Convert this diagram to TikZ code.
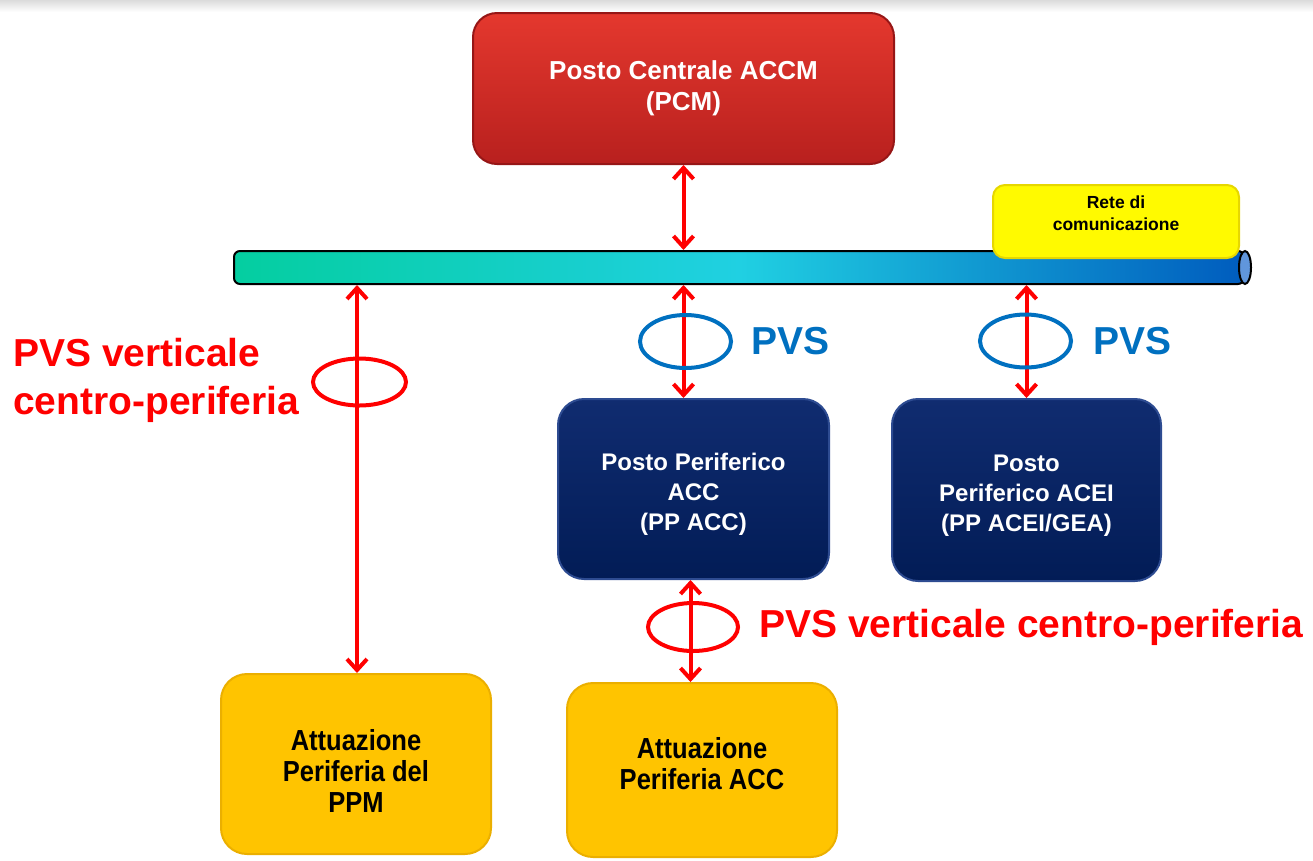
\documentclass[tikz,border=0pt]{standalone}
\usepackage{fontspec}
\setmainfont{Liberation Sans}
\newfontfamily\narrowsans[FakeStretch=0.88]{Liberation Sans}
\usetikzlibrary{arrows.meta,positioning,shapes.geometric}
\definecolor{pcmtop}{RGB}{228,56,46}
\definecolor{pcmbot}{RGB}{184,32,30}
\definecolor{pcmedge}{RGB}{150,22,22}
\definecolor{pptop}{RGB}{16,44,112}
\definecolor{ppbot}{RGB}{2,28,86}
\definecolor{ppedge}{RGB}{45,75,145}
\definecolor{attfill}{RGB}{255,196,0}
\definecolor{attedge}{RGB}{235,175,0}
\definecolor{retefill}{RGB}{255,250,0}
\definecolor{reteedge}{RGB}{230,215,0}
\definecolor{busgreen}{RGB}{4,206,160}
\definecolor{buscyan}{RGB}{32,208,226}
\definecolor{busblue}{RGB}{0,92,190}
\definecolor{buscap}{RGB}{96,150,220}
\definecolor{pvsblue}{RGB}{0,112,192}
\definecolor{pvsred}{RGB}{255,0,0}

\begin{document}
\begin{tikzpicture}[x=1pt,y=-1pt]
        \useasboundingbox (0,0) rectangle (1313,860);
        \fill[top color=black!14,bottom color=white] (0,0) rectangle (1313,12);

        \node[draw=black,line width=2pt,rounded corners=6pt,inner sep=0,
            left color=busgreen,right color=busblue,middle color=buscyan,
            minimum width=1010pt,minimum height=33pt] (bus) at (739,267.5) {};
        \node[ellipse,draw=black,line width=2pt,fill=buscap,inner sep=0,
            minimum width=12pt,minimum height=33pt] (buscap) at (bus.east) {};

        \begin{scope}[every node/.style={rounded corners=26pt,line width=2pt,
                align=center,inner sep=0,font=\bfseries}]
            \node[draw=pcmedge,top color=pcmtop,bottom color=pcmbot,text=white,
                minimum width=421pt,minimum height=151pt,rounded corners=24pt,
                font=\bfseries\fontsize{26}{31}\selectfont] (pcm) at (683.5,88.5)
                {Posto Centrale ACCM\\(PCM)};
            \node[draw=reteedge,fill=retefill,minimum width=246pt,minimum height=73pt,
                rounded corners=12pt,font=\bfseries\fontsize{17.5}{22}\selectfont]
                (rete) at (1116,221.5) {Rete di\\comunicazione\\[-6pt]};

            \node[draw=ppedge,top color=pptop,bottom color=ppbot,text=white,
                minimum width=271pt,minimum height=180pt,
                font=\bfseries\fontsize{24}{30}\selectfont] (ppacc) at (693.5,489)
                {\mbox{}\\[-3pt]Posto Periferico\\ACC\\(PP ACC)};
            \node[draw=ppedge,top color=pptop,bottom color=ppbot,text=white,
                minimum width=269pt,minimum height=182pt,
                font=\bfseries\fontsize{24}{30}\selectfont] (ppacei) at (1026.5,490)
                {\mbox{}\\[-3pt]Posto\\Periferico ACEI\\(PP ACEI/GEA)};

            \node[draw=attedge,fill=attfill,minimum width=270pt,minimum height=180pt,
                font=\narrowsans\bfseries\fontsize{29}{31}\selectfont] (ppm) at (356,764)
                {\mbox{}\\[4pt]Attuazione\\Periferia del\\PPM};
            \node[draw=attedge,fill=attfill,minimum width=270pt,minimum height=174pt,
                font=\narrowsans\bfseries\fontsize{29}{31}\selectfont] (attacc) at (702,770)
                {Attuazione\\Periferia ACC\\[-17pt]};
        \end{scope}

        \begin{scope}[>={Straight Barb[length=11pt,width=20pt]},
            every edge/.style={draw=pvsred,line width=4pt}]
            \path [<->] (pcm.south) edge (pcm.south |- bus.north);
            \path [<->] (pcm.south |- bus.south) edge (pcm.south |- ppacc.north);
            \path [<->] (ppacei.north |- bus.south) edge (ppacei.north);
            \path [<->] ([xshift=-3pt]ppacc.south) edge ([xshift=-3pt]ppacc.south |- attacc.north);
            \path [<->] ([xshift=1pt]ppm.north |- bus.south) edge ([xshift=1pt]ppm.north);
        \end{scope}

        \begin{scope}[every node/.style={ellipse,line width=4pt,inner sep=0}]
            \node[draw=pvsblue,minimum width=91pt,minimum height=53pt] (ringacc) at (685.5,341.5) {};
            \node[draw=pvsblue,minimum width=91pt,minimum height=53pt] (ringacei) at (1025.5,341) {};
            \node[draw=pvsred,minimum width=90pt,minimum height=48pt] (ringlow) at (693,627) {};
            \node[draw=pvsred,minimum width=93pt,minimum height=47pt] (ringppm) at (359.5,382) {};
        \end{scope}

        \begin{scope}[every node/.style={inner sep=0,font=\bfseries\fontsize{39}{48}\selectfont}]
            \node[text=pvsblue,right=18pt of ringacc] (pvsacc) {PVS};
            \node[text=pvsblue,right=20pt of ringacei] (pvsacei) {PVS};
            \node[text=pvsred,right=19pt of ringlow] (pvslow) {PVS verticale centro-periferia};
            \node[text=pvsred,anchor=west,align=left] (pvsppm) at (13,380)
                {PVS verticale\\centro-periferia};
        \end{scope}
    \end{tikzpicture}
\end{document}
